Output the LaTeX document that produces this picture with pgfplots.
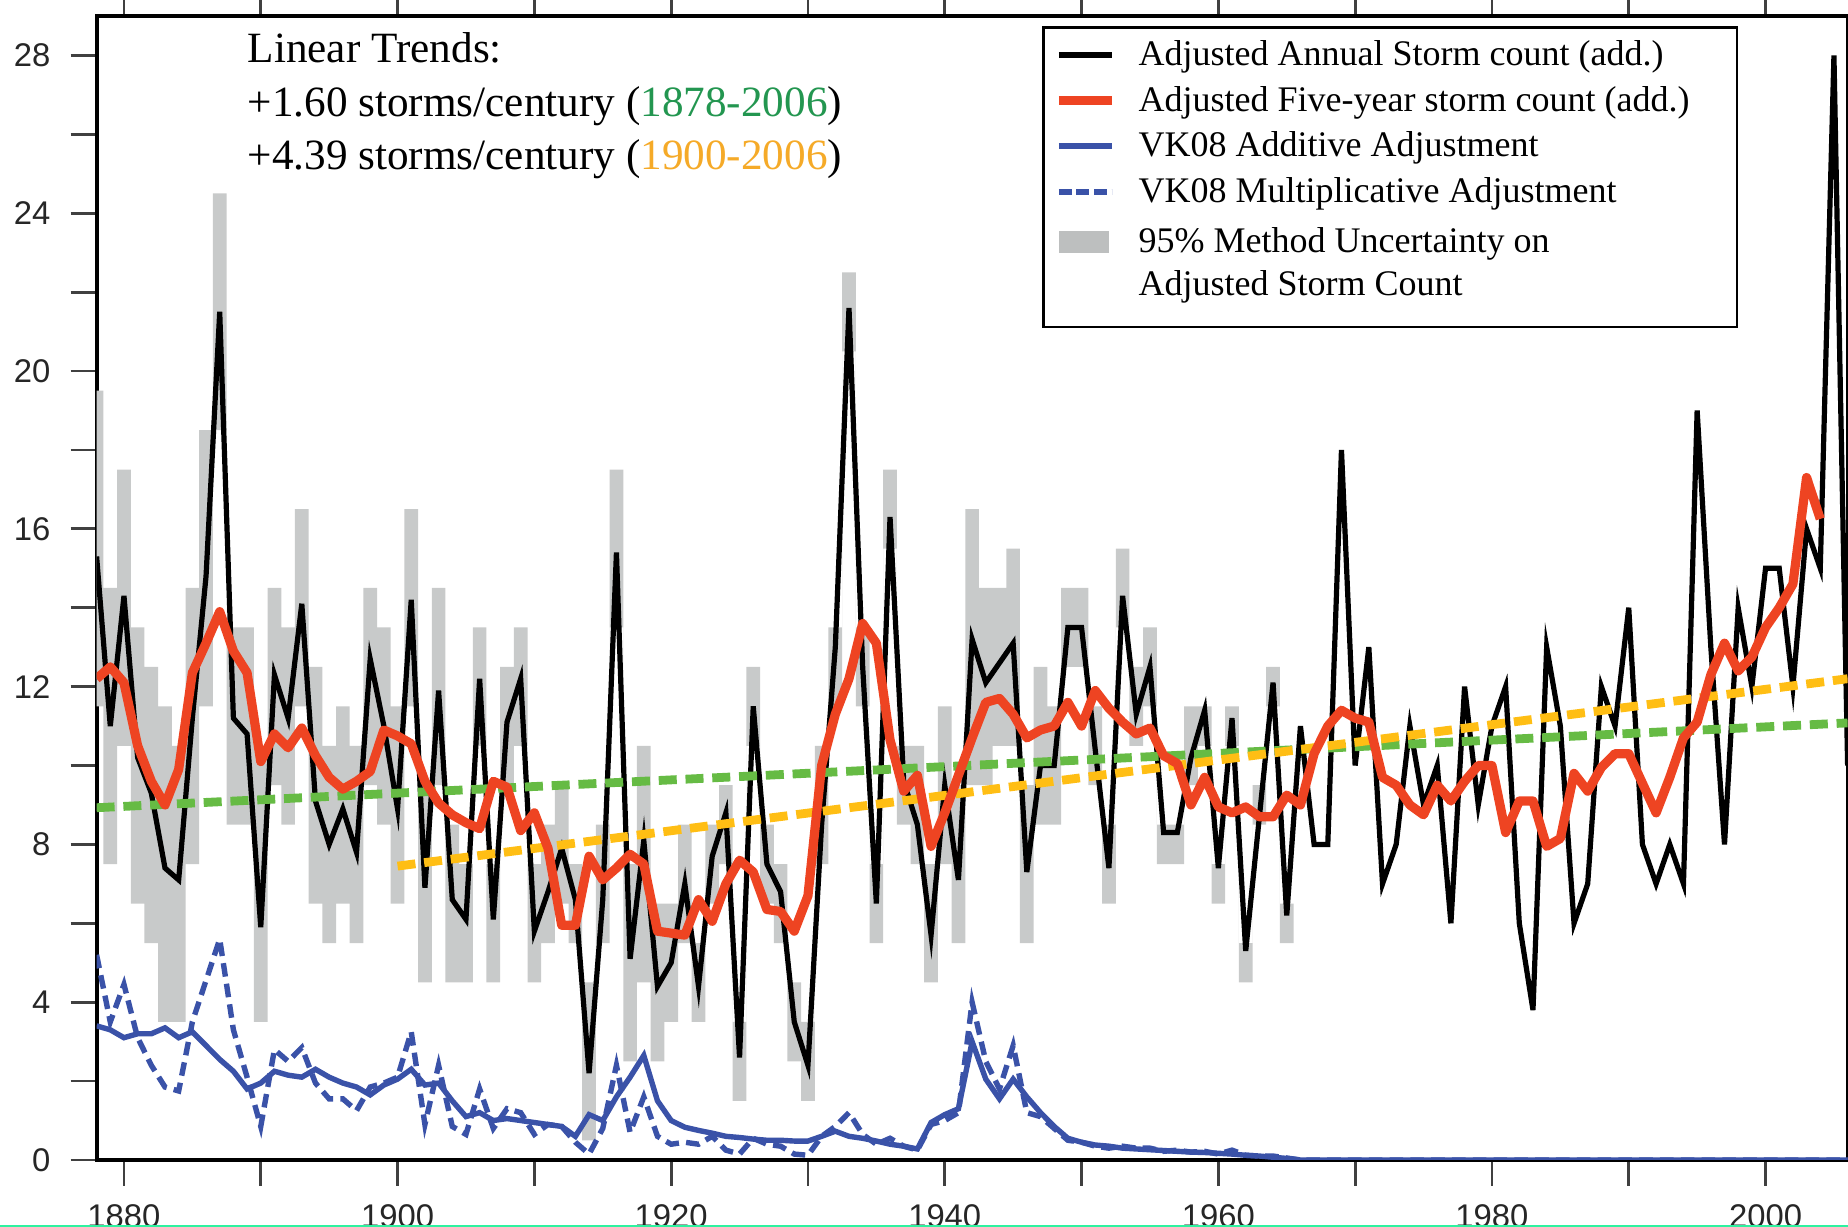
\documentclass[border=0pt]{standalone}
\usepackage{fontspec}
\setmainfont{Liberation Serif}
\setsansfont{Liberation Sans}
\usepackage{pgfplots}
\usepackage{pgfplotstable}
\usepgfplotslibrary{fillbetween}
\pgfplotsset{compat=1.18}

\definecolor{stormred}{HTML}{EE4422}
\definecolor{trendgreen}{HTML}{66BB44}
\definecolor{trendorange}{HTML}{FFBE14}
\definecolor{adjblue}{HTML}{3A52A8}
\definecolor{bandgray}{HTML}{C8CACA}
\definecolor{keygray}{HTML}{BDBFBF}
\definecolor{textgreen}{HTML}{239650}
\definecolor{textorange}{HTML}{F5AA28}
\definecolor{edgegreen}{HTML}{2EF2A0}

% yr: year, blk: adjusted annual count, red: five-year mean,
% add / mul: VK08 additive and multiplicative adjustments
\pgfplotstableread{
yr blk red add mul
1878 15.3 12.2 3.4 5.2
1879 11.0 12.5 3.3 3.5
1880 14.3 12.1 3.1 4.45
1881 10.2 10.5 3.2 3.1
1882 9.3 9.6 3.2 2.4
1883 7.4 9.0 3.35 1.85
1884 7.1 9.9 3.1 1.75
1885 11.2 12.35 3.25 3.5
1886 14.8 13.1 2.9 4.55
1887 21.5 13.9 2.55 5.6
1888 11.2 12.9 2.25 3.3
1889 10.8 12.35 1.8 2.1
1890 5.9 10.1 1.95 0.85
1891 12.3 10.8 2.25 2.8
1892 11.2 10.45 2.15 2.5
1893 14.1 10.95 2.1 2.85
1894 9.1 10.25 2.3 1.95
1895 8.0 9.7 2.1 1.55
1896 8.9 9.4 1.95 1.55
1897 7.8 9.6 1.85 1.25
1898 12.7 9.85 1.65 1.85
1899 11.0 10.9 1.9 1.95
1900 8.9 10.75 2.05 2.1
1901 14.2 10.55 2.3 3.25
1902 6.9 9.6 1.9 0.9
1903 11.9 9.05 1.95 2.4
1904 6.6 8.75 1.5 0.85
1905 6.1 8.55 1.1 0.65
1906 12.2 8.4 1.2 1.8
1907 6.1 9.6 1.0 0.8
1908 11.1 9.45 1.05 1.3
1909 12.2 8.35 1.0 1.2
1910 5.8 8.8 0.95 0.65
1911 6.8 7.9 0.9 0.9
1912 7.9 5.95 0.85 0.85
1913 6.6 5.95 0.6 0.45
1914 2.2 7.7 1.15 0.15
1915 6.6 7.1 1.0 0.8
1916 15.4 7.4 1.6 2.4
1917 5.1 7.75 2.1 0.7
1918 8.1 7.5 2.65 1.6
1919 4.4 5.8 1.5 0.6
1920 5.0 5.75 1.0 0.4
1921 7.0 5.7 0.83 0.45
1922 4.4 6.6 0.75 0.4
1923 7.7 6.05 0.68 0.6
1924 8.8 7.0 0.6 0.25
1925 2.6 7.6 0.57 0.15
1926 11.5 7.3 0.53 0.55
1927 7.5 6.35 0.5 0.4
1928 6.8 6.3 0.5 0.35
1929 3.5 5.8 0.48 0.15
1930 2.4 6.7 0.48 0.12
1931 8.5 10.0 0.6 0.6
1932 13.0 11.3 0.73 0.85
1933 21.6 12.2 0.6 1.2
1934 12.5 13.6 0.55 0.65
1935 6.5 13.1 0.48 0.4
1936 16.3 10.65 0.4 0.55
1937 9.6 9.35 0.35 0.35
1938 8.5 9.75 0.28 0.25
1939 5.7 7.95 0.95 0.9
1940 9.5 8.8 1.15 1.0
1941 7.1 9.75 1.3 1.2
1942 13.2 10.7 3.0 4.0
1943 12.1 11.6 2.05 2.5
1944 12.6 11.7 1.55 1.8
1945 13.1 11.3 2.05 2.9
1946 7.3 10.7 1.6 1.2
1947 10.0 10.9 1.2 1.1
1948 10.0 11.0 0.85 0.8
1949 13.5 11.6 0.55 0.5
1950 13.5 11.0 0.45 0.45
1951 10.4 11.9 0.38 0.35
1952 7.4 11.45 0.35 0.3
1953 14.3 11.1 0.3 0.35
1954 11.3 10.8 0.28 0.3
1955 12.5 10.95 0.26 0.3
1956 8.3 10.25 0.24 0.22
1957 8.3 10.05 0.22 0.25
1958 10.2 9.0 0.2 0.2
1959 11.4 9.7 0.19 0.22
1960 7.4 8.95 0.17 0.15
1961 11.2 8.8 0.15 0.25
1962 5.3 8.95 0.12 0.12
1963 8.7 8.7 0.1 0.1
1964 12.1 8.7 0.07 0.1
1965 6.2 9.25 0.04 0.05
1966 11 9.0 0 0
1967 8 10.3 0 0
1968 8 11.0 0 0
1969 18 11.4 0 0
1970 10 11.2 0 0
1971 13 11.1 0 0
1972 7 9.7 0 0
1973 8 9.5 0 0
1974 11 9.0 0 0
1975 9 8.75 0 0
1976 10 9.5 0 0
1977 6 9.1 0 0
1978 12 9.6 0 0
1979 9 10.0 0 0
1980 11 10.0 0 0
1981 12 8.3 0 0
1982 6 9.1 0 0
1983 3.8 9.1 0 0
1984 13 7.95 0 0
1985 11 8.15 0 0
1986 6 9.8 0 0
1987 7 9.35 0 0
1988 12 9.95 0 0
1989 11 10.3 0 0
1990 14 10.3 0 0
1991 8 9.55 0 0
1992 7 8.8 0 0
1993 8 9.7 0 0
1994 7 10.7 0 0
1995 19 11.1 0 0
1996 13 12.3 0 0
1997 8 13.1 0 0
1998 14 12.4 0 0
1999 12 12.75 0 0
2000 15 13.5 0 0
2001 15 14.0 0 0
2002 12 14.6 0 0
2003 16 17.3 0 0
2004 15 16.25 0 0
2005 28 nan 0 0
2006 10 nan 0 0
}\counts

% 95% method uncertainty band (last row closes the final step)
\pgfplotstableread{
yr lo hi
1878 11.5 19.5
1879 7.5 14.5
1880 10.5 17.5
1881 6.5 13.5
1882 5.5 12.5
1883 3.5 11.5
1884 3.5 10.5
1885 7.5 14.5
1886 11.5 18.5
1887 18.5 24.5
1888 8.5 13.5
1889 8.5 13.5
1890 3.5 10.5
1891 9.5 14.5
1892 8.5 13.5
1893 11.5 16.5
1894 6.5 12.5
1895 5.5 10.5
1896 6.5 11.5
1897 5.5 10.5
1898 9.5 14.5
1899 8.5 13.5
1900 6.5 11.5
1901 11.5 16.5
1902 4.5 9.5
1903 9.5 14.5
1904 4.5 8.5
1905 4.5 7.5
1906 10.5 13.5
1907 4.5 7.5
1908 9.5 12.5
1909 10.5 13.5
1910 4.5 7.5
1911 5.5 8.5
1912 6.5 9.5
1913 5.5 7.5
1914 0.5 4.5
1915 5.5 8.5
1916 13.5 17.5
1917 2.5 7.5
1918 4.5 10.5
1919 2.5 6.5
1920 3.5 6.5
1921 5.5 8.5
1922 3.5 5.5
1923 6.5 8.5
1924 7.5 9.5
1925 1.5 3.5
1926 10.5 12.5
1927 6.5 8.5
1928 5.5 7.5
1929 2.5 4.5
1930 1.5 3.5
1931 7.5 10.5
1932 11.5 13.5
1933 20.5 22.5
1934 11.5 13.5
1935 5.5 7.5
1936 15.5 17.5
1937 8.5 10.5
1938 7.5 10.5
1939 4.5 7.5
1940 7.5 11.5
1941 5.5 9.5
1942 9.5 16.5
1943 9.5 14.5
1944 10.5 14.5
1945 10.5 15.5
1946 5.5 9.5
1947 8.5 12.5
1948 8.5 11.5
1949 12.5 14.5
1950 12.5 14.5
1951 9.5 11.5
1952 6.5 8.5
1953 13.5 15.5
1954 10.5 12.5
1955 11.5 13.5
1956 7.5 8.5
1957 7.5 8.5
1958 9.5 11.5
1959 10.5 11.5
1960 6.5 7.5
1961 10.5 11.5
1962 4.5 5.5
1963 8.5 9.5
1964 11.5 12.5
1965 5.5 6.5
1966 5.5 6.5
}\band

\pgfplotstableread{
yr val
1878 8.93
2006 11.08
}\trendall

\pgfplotstableread{
yr val
1900 7.45
2006 12.2
}\trendlate

\begin{document}
\begin{tikzpicture}
\begin{axis}[
  scale only axis, width=437.75pt, height=286pt,
  xmin=1878, xmax=2006, ymin=0, ymax=29,
  no markers,
  axis line style={line width=1pt},
  tick align=outside,
  xtick={1880,1900,...,2000}, minor xtick={1890,1910,...,1990},
  ytick={0,4,...,28}, minor ytick={2,6,...,26},
  major tick length=6.5pt, minor tick length=6.5pt,
  tick style={line width=0.7pt, black!75},
  xtick pos=both, ytick pos=left,
  /pgf/number format/assume math mode=true,
  /pgf/number format/1000 sep={},
  tick label style={font=\sffamily\fontsize{8.2}{9}\selectfont, text=black!85},
  yticklabel style={xshift=-1.5pt},
  xticklabel style={yshift=-1.2pt},
]
% uncertainty band as one-year steps
\addplot[name path=bandlo, draw=none, const plot mark left, forget plot]
  table[x expr=\thisrow{yr}-0.5, y=lo] {\band};
\addplot[name path=bandhi, draw=none, const plot mark left, forget plot]
  table[x expr=\thisrow{yr}-0.5, y=hi] {\band};
\addplot[fill=bandgray, draw=none, forget plot] fill between[of=bandhi and bandlo];

% adjustments
\addplot[adjblue, line width=1.35pt, dash pattern=on 3.4pt off 1.8pt] table[x=yr, y=mul] {\counts};
\addplot[adjblue, line width=1.35pt] table[x=yr, y=add] {\counts};

% annual counts
\addplot[black, line width=1.3pt] table[x=yr, y=blk] {\counts};

% linear trends
\addplot[trendgreen, line width=2.2pt, dash pattern=on 4.5pt off 2.2pt] table[x=yr, y=val] {\trendall};
\addplot[trendorange, line width=2.2pt, dash pattern=on 4.5pt off 2.2pt] table[x=yr, y=val] {\trendlate};

% five-year mean
\addplot[stormred, line width=2.3pt, line join=round] table[x=yr, y=red] {\counts};
\end{axis}

% trend annotation
\begin{scope}[every node/.style={anchor=base west, inner sep=0pt, font=\fontsize{10.8}{13}\selectfont}]
\node at (37.6pt,274.25pt) {Linear Trends:};
\node at (37.6pt,260.75pt) {+1.60 storms/century (\textcolor{textgreen}{1878-2006})};
\node at (37.6pt,247.5pt) {+4.39 storms/century (\textcolor{textorange}{1900-2006})};
\end{scope}

% legend
\draw[line width=0.7pt, fill=white] (236.8pt,208.25pt) rectangle (410.1pt,283.1pt);
\draw[black, line width=1.3pt] (240.55pt,276.25pt) -- (253.75pt,276.25pt);
\draw[stormred, line width=2.3pt] (240.55pt,264.875pt) -- (253.75pt,264.875pt);
\draw[adjblue, line width=1.35pt] (240.55pt,253.5pt) -- (253.75pt,253.5pt);
\draw[adjblue, line width=1.35pt, dash pattern=on 3.2pt off 1.2pt] (240.55pt,242pt) -- (253.75pt,242pt);
\fill[keygray] (240.55pt,226.75pt) rectangle (253.2pt,232.25pt);
\begin{scope}[every node/.style={anchor=base west, inner sep=0pt, font=\fontsize{9}{11}\selectfont}]
\node at (260.3pt,273.55pt) {Adjusted Annual Storm count (add.)};
\node at (260.3pt,262.175pt) {Adjusted Five-year storm count (add.)};
\node at (260.3pt,250.8pt) {VK08 Additive Adjustment};
\node at (260.3pt,239.3pt) {VK08 Multiplicative Adjustment};
\node at (260.3pt,226.925pt) {95\% Method Uncertainty on};
\node at (260.3pt,216.05pt) {Adjusted Storm Count};
\end{scope}

\fill[edgegreen] (-24.15pt,-16.75pt) rectangle (437.85pt,-16.2pt);

\pgfresetboundingbox
\useasboundingbox (-24.15pt,-16.75pt) rectangle (437.85pt,290pt);
\end{tikzpicture}
\end{document}
